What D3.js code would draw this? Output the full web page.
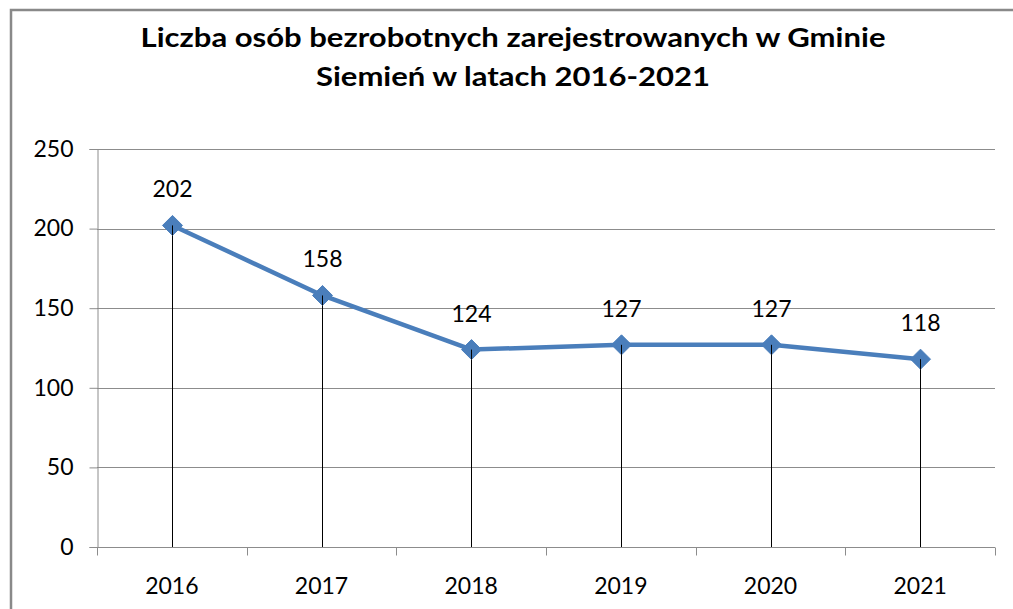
<!DOCTYPE html>
<html>
<head>
<meta charset="utf-8">
<script src="https://cdn.jsdelivr.net/npm/d3@7"></script>
<style>
  body { margin: 0; background: #fff; }
  svg { display: block; font-family: Lato, "Open Sans", sans-serif; }
</style>
</head>
<body>
<svg id="chart" width="1013" height="609"></svg>
<script>
const years = ["2016", "2017", "2018", "2019", "2020", "2021"];
const values = [202, 158, 124, 127, 127, 118];
const yTicks = [0, 50, 100, 150, 200, 250];
const titleLines = ["Liczba osób bezrobotnych zarejestrowanych w Gminie", "Siemień w latach 2016-2021"];
const titleWidths = [745, 394];

const data = years.map((y, i) => ({ year: y, value: values[i] }));

const svg = d3.select("#chart");
const margin = { left: 97, right: 18, top: 149, bottom: 62 };
const width = 1013, height = 609;

// outer frame
svg.append("rect")
    .attr("x", 11).attr("y", 10)
    .attr("width", 1013).attr("height", 620)
    .attr("fill", "none")
    .attr("stroke", "#898989")
    .attr("stroke-width", 2.5);

// title
svg.append("text")
    .attr("text-anchor", "middle")
    .attr("font-weight", "bold")
    .attr("font-size", 26)
    .attr("fill", "#000")
    .selectAll("tspan")
    .data(titleLines)
    .enter()
    .append("tspan")
    .attr("x", 513)
    .attr("y", (d, i) => 47 + i * 39)
    .attr("textLength", (d, i) => titleWidths[i])
    .attr("lengthAdjust", "spacingAndGlyphs")
    .text(d => d);

const x = d3.scaleBand()
    .domain(years)
    .range([margin.left, width - margin.right]);

const y = d3.scaleLinear()
    .domain([0, 250])
    .range([height - margin.bottom, margin.top]);

// gridlines
svg.append("g")
    .selectAll("line")
    .data(yTicks.filter(t => t > 0))
    .enter()
    .append("line")
    .attr("x1", margin.left)
    .attr("x2", width - margin.right)
    .attr("y1", d => Math.round(y(d)) + 0.5)
    .attr("y2", d => Math.round(y(d)) + 0.5)
    .attr("stroke", "#8c8c8c");

// y axis
const yAxis = svg.append("g")
    .attr("transform", `translate(${margin.left + 0.5},0)`)
    .call(d3.axisLeft(y).tickValues(yTicks).tickSize(8).tickPadding(16));
yAxis.selectAll("line, path").attr("stroke", "#8c8c8c");
yAxis.selectAll("text").attr("font-size", 23).attr("fill", "#000")
    .attr("font-family", "Lato, sans-serif");

// x axis with ticks at band boundaries
const xAxisG = svg.append("g")
    .attr("transform", `translate(0,${Math.round(y(0)) + 0.5})`);
xAxisG.append("line")
    .attr("x1", margin.left).attr("x2", width - margin.right)
    .attr("stroke", "#8c8c8c");
const bounds = years.map(yr => x(yr)).concat([x(years[years.length - 1]) + x.bandwidth()]);
xAxisG.selectAll("line.tick")
    .data(bounds)
    .enter()
    .append("line")
    .attr("class", "tick")
    .attr("x1", d => Math.round(d) + 0.5)
    .attr("x2", d => Math.round(d) + 0.5)
    .attr("y1", 0).attr("y2", 8)
    .attr("stroke", "#8c8c8c");
xAxisG.selectAll("text")
    .data(years)
    .enter()
    .append("text")
    .attr("x", d => x(d) + x.bandwidth() / 2)
    .attr("y", 46)
    .attr("text-anchor", "middle")
    .attr("font-size", 23)
    .attr("fill", "#000")
    .text(d => d);

const cx = d => Math.round(x(d.year) + x.bandwidth() / 2) + 0.5;

// drop lines
svg.append("g")
    .selectAll("line")
    .data(data)
    .enter()
    .append("line")
    .attr("x1", cx).attr("x2", cx)
    .attr("y1", d => y(d.value))
    .attr("y2", y(0))
    .attr("stroke", "#000")
    .attr("stroke-width", 1);

// series line
const line = d3.line()
    .x(cx)
    .y(d => y(d.value));

svg.append("path")
    .datum(data)
    .attr("d", line)
    .attr("fill", "none")
    .attr("stroke", "#4a7ebb")
    .attr("stroke-width", 4.5)
    .attr("stroke-linejoin", "round");

// markers
svg.append("g")
    .selectAll("path")
    .data(data)
    .enter()
    .append("path")
    .attr("transform", d => `translate(${cx(d)},${y(d.value)})`)
    .attr("d", "M0,-10L10,0L0,10L-10,0Z")
    .attr("fill", "#4a7ebb")
    .attr("stroke", "#4a7ebb")
    .attr("stroke-width", 1);

// drop lines drawn through the lower half of the markers
svg.append("g")
    .selectAll("line")
    .data(data)
    .enter()
    .append("line")
    .attr("x1", cx).attr("x2", cx)
    .attr("y1", d => y(d.value))
    .attr("y2", d => y(d.value) + 10)
    .attr("stroke", "#000")
    .attr("stroke-width", 1);

// data labels
svg.append("g")
    .selectAll("text")
    .data(data)
    .enter()
    .append("text")
    .attr("x", cx)
    .attr("y", d => y(d.value) - 28)
    .attr("text-anchor", "middle")
    .attr("font-size", 23)
    .attr("fill", "#000")
    .text(d => d.value);
</script>
</body>
</html>
